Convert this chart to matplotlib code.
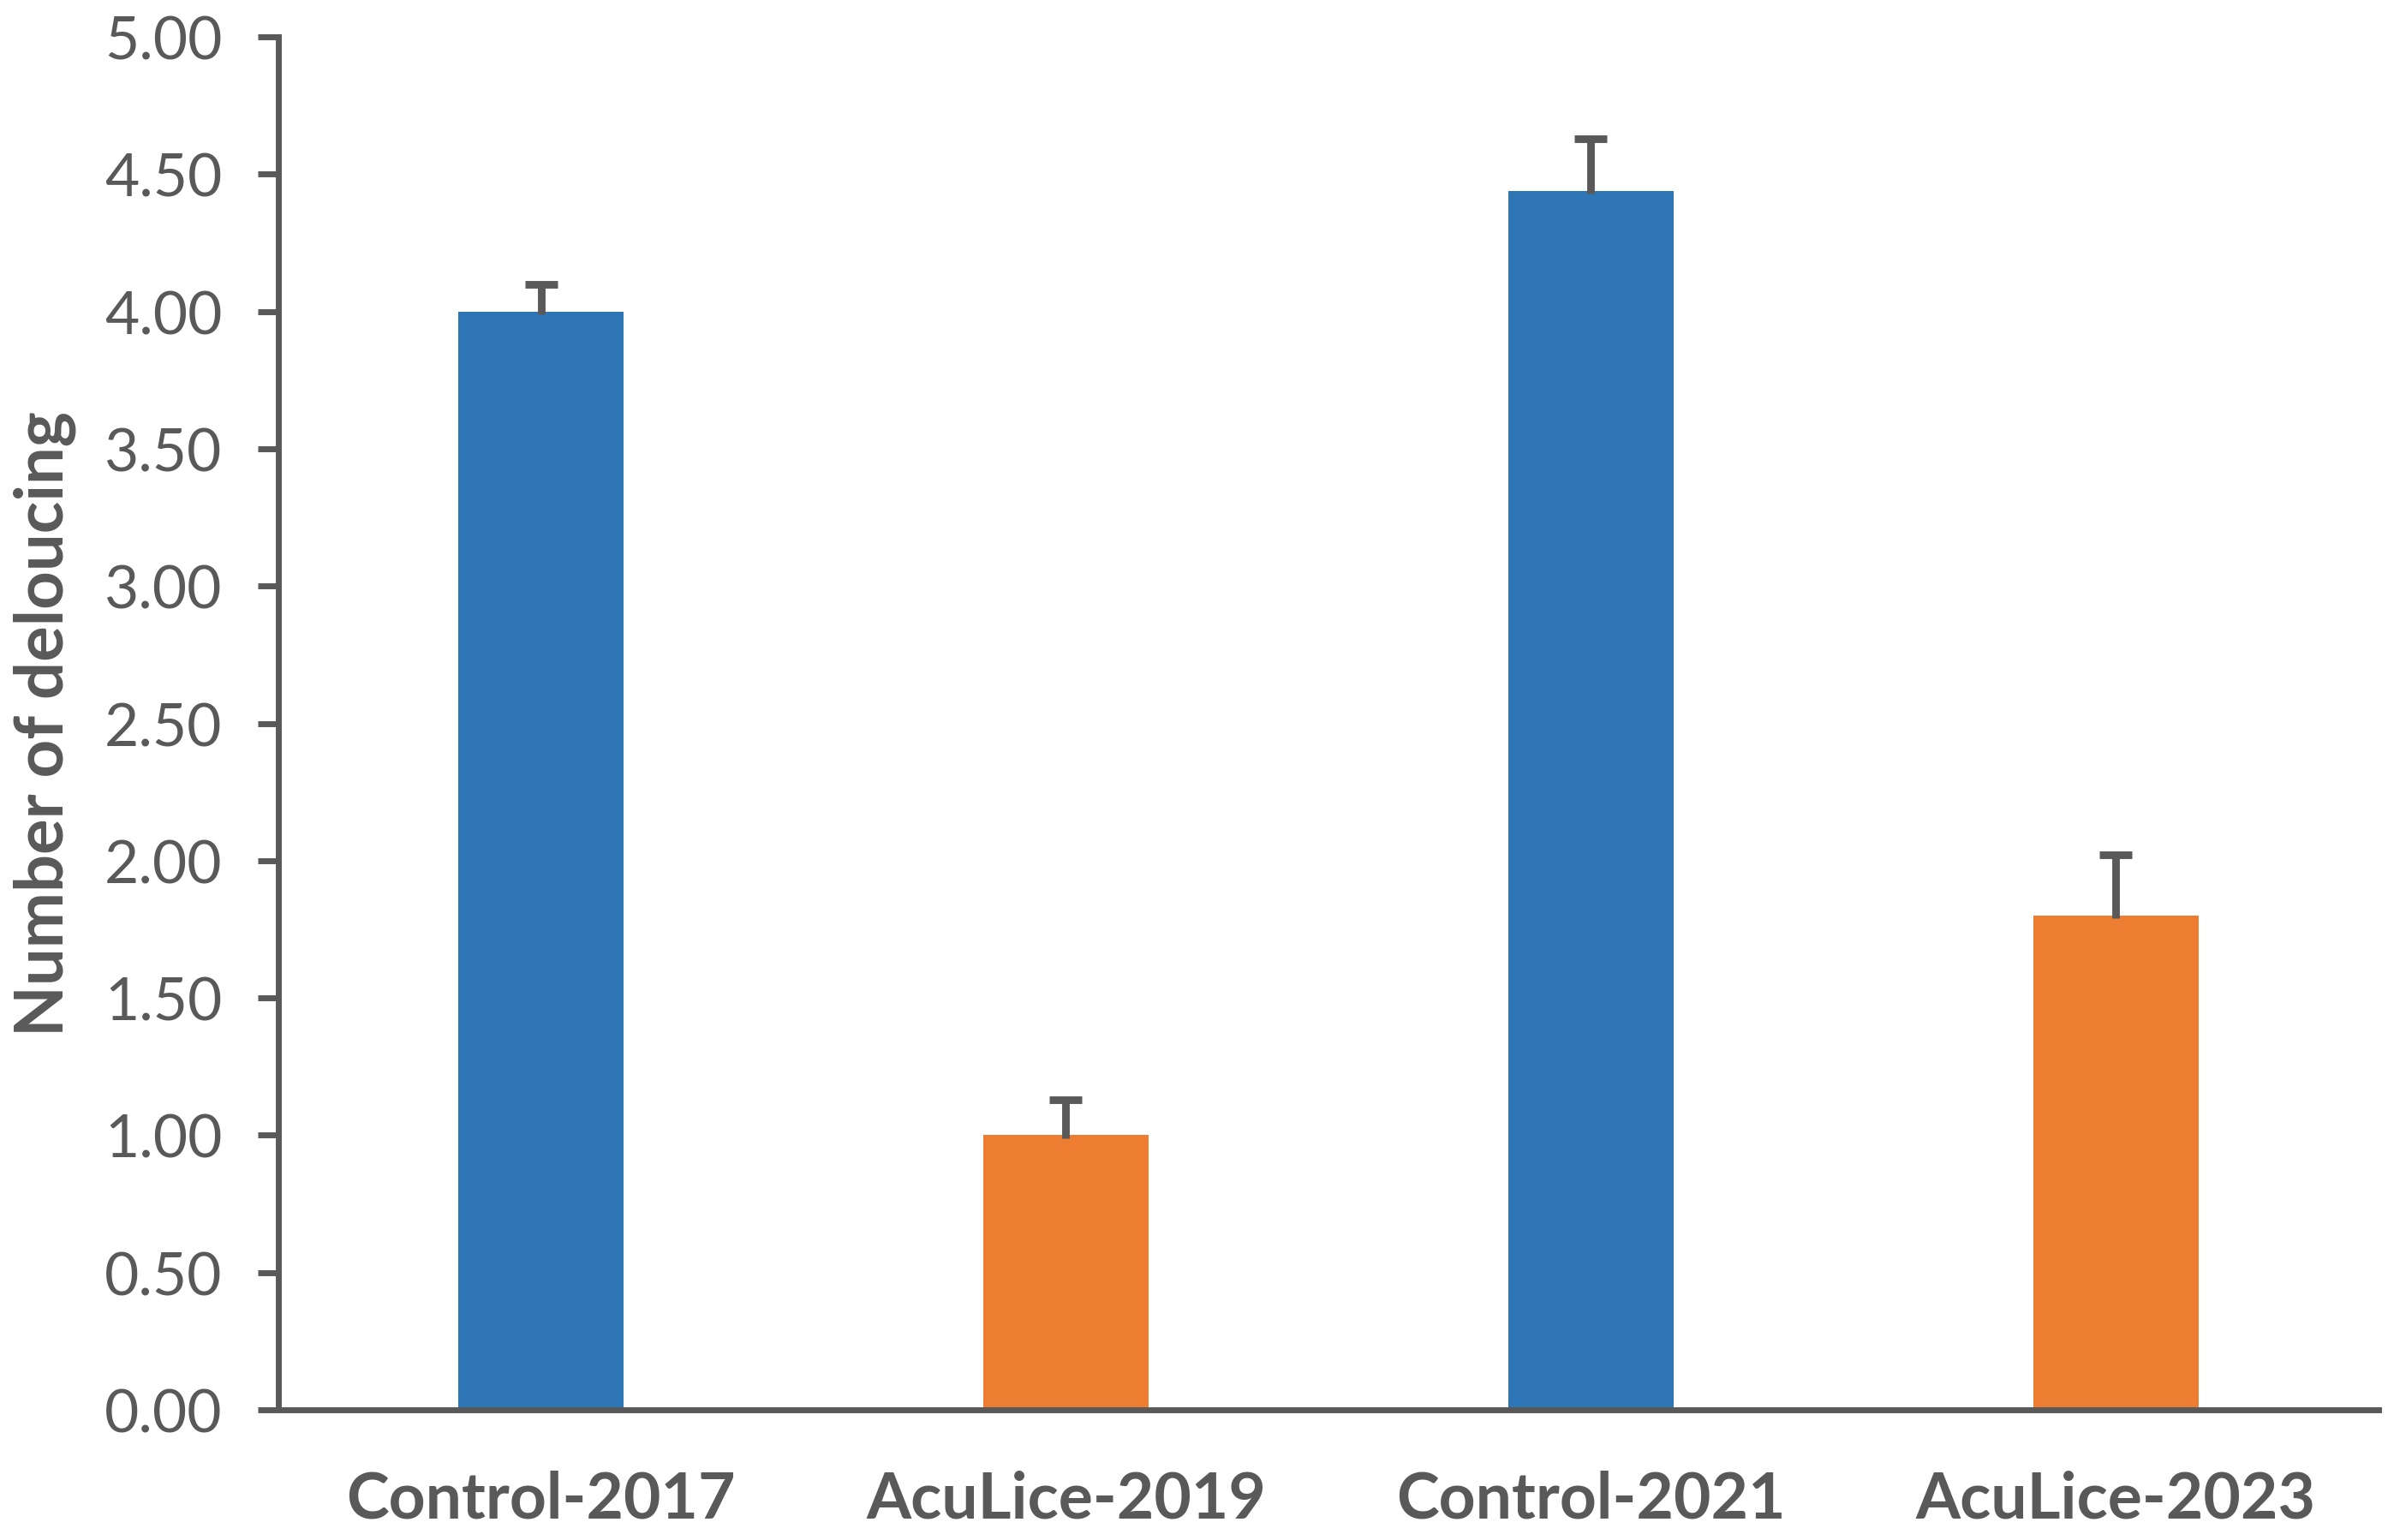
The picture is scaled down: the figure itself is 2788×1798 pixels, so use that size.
import matplotlib
matplotlib.use("Agg")
import matplotlib.pyplot as plt
from matplotlib.ticker import FormatStrFormatter

# data
groups = ["Control-2017", "AcuLice-2019", "Control-2021", "AcuLice-2023"]
means = [4.00, 1.00, 4.44, 1.80]
errs = [0.10, 0.13, 0.19, 0.22]
colors = ["#2E75B6", "#ED7D31", "#2E75B6", "#ED7D31"]

grey = "#595959"
plt.rcParams["font.family"] = ["Lato", "DejaVu Sans"]

fig = plt.figure(figsize=(13.94, 8.995), dpi=200)
ax = fig.add_axes([0.1166, 0.0845, 0.8794, 0.891])

x = list(range(len(groups)))
ax.bar(x, means, width=0.315, color=colors, zorder=2)
eb = ax.errorbar(x, means, yerr=[[0.01] * len(errs), errs], fmt="none",
                 ecolor=grey, elinewidth=3.2, capsize=7, capthick=3.2, zorder=3)
# only the upper cap, like the original
eb[1][0].set_visible(False)

ax.set_xlim(-0.5, 3.5)
ax.set_ylim(0, 5)
ax.set_yticks([i * 0.5 for i in range(11)])
ax.yaxis.set_major_formatter(FormatStrFormatter("%.2f"))
ax.set_xticks(x)
ax.set_xticklabels(groups, fontsize=27, fontweight="bold", color=grey)

for s in ["top", "right"]:
    ax.spines[s].set_visible(False)
for s in ["left", "bottom"]:
    ax.spines[s].set_color(grey)
    ax.spines[s].set_linewidth(2.5)

ax.tick_params(axis="y", direction="out", length=8.6, width=2.5, color=grey,
               labelsize=25, labelcolor=grey, pad=15)
ax.tick_params(axis="x", length=0, pad=25)

ax.set_ylabel("Number of deloucing", fontsize=28, fontweight="bold",
              color=grey, labelpad=12)

fig.savefig("out.png", dpi=200)
